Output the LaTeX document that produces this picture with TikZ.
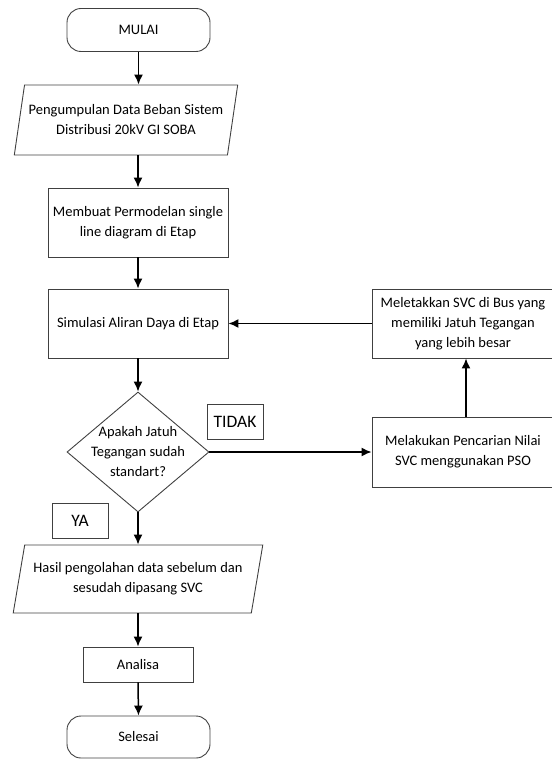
\documentclass[tikz,border=0pt]{standalone}
\usepackage{fontspec}
\setmainfont{Carlito}
\usepackage{tikz}
\usetikzlibrary{shapes.geometric,arrows.meta}
\tikzset{
    terminal/.style={
           rectangle,
           rounded corners=14pt,
           draw=black!75, line width=0.9pt,
           minimum width=143pt,
           minimum height=43pt,
           text centered,
           },
    process/.style={
           rectangle,
           draw=black!75, line width=0.9pt,
           minimum height=69pt,
           inner sep=2pt,
           align=center,
           },
    io/.style={
           trapezium,
           trapezium left angle=72,
           trapezium right angle=108,
           trapezium stretches=true,
           draw=black!75, line width=0.9pt,
           inner sep=0pt,
           align=center,
           },
    decision/.style={
           diamond,
           aspect=1.18,
           draw=black!75, line width=0.9pt,
           minimum width=142pt,
           minimum height=120pt,
           inner sep=0pt,
           },
    answer/.style={
           rectangle,
           draw=black!75, line width=0.9pt,
           minimum width=56pt,
           minimum height=35pt,
           font=\fontsize{17.5}{20}\selectfont,
           },
    arrow/.style={
           draw=black, line width=1.5pt,
           -{Latex[length=10pt,width=9pt]},
           },
}

\begin{document}
\begin{tikzpicture}[x=1pt,y=-1pt,font=\fontsize{14.5}{20}\selectfont]
    \useasboundingbox (0,0) rectangle (551,759);

    % main column
    \node[terminal] (mulai) at (138.5,30) {MULAI};
    \node[io, minimum width=224pt, minimum height=70pt] (kumpul) at (126,120)
        {Pengumpulan Data Beban Sistem\\Distribusi 20kV GI SOBA};
    \node[process, minimum width=180pt] (model) at (138,222.5)
        {Membuat Permodelan single\\line diagram di Etap};
    \node[process, minimum width=180pt] (simul) at (138,323.5)
        {Simulasi Aliran Daya di Etap};
    \node[decision] (cek) at (138,452) {};
    \node[align=center, inner sep=0pt] (cektxt) at (cek)
        {Apakah Jatuh\\Tegangan sudah\\standart?};
    \node[io, minimum width=250pt, minimum height=68pt] (hasil) at (138,579)
        {Hasil pengolahan data sebelum dan\\sesudah dipasang SVC};
    \node[process, minimum width=110pt, minimum height=35pt] (analisa) at (138,664.5)
        {Analisa};
    \node[terminal, minimum height=42pt] (selesai) at (138.5,737) {Selesai};

    % loop on the right (boxes run past the page edge)
    \node[process, minimum width=188pt] (letak) at (466,323.5)
        {\hspace*{-6pt}Meletakkan SVC di Bus yang\\\hspace*{-6pt}memiliki Jatuh Tegangan\\\hspace*{-6pt}yang lebih besar};
    \node[process, minimum width=188pt, minimum height=70pt] (cari) at (466,452)
        {\hspace*{-6pt}Melakukan Pencarian Nilai\\\hspace*{-6pt}SVC menggunakan PSO};

    % answers
    \node[answer] (tidak) at (235,421.5) {TIDAK};
    \node[answer] (ya) at (80,520.5) {YA};

    % draw the paths
    \path
        (mulai.south) edge[arrow] (mulai.south |- kumpul.north)
        (model.north |- kumpul.south) edge[arrow] (model.north)
        (model.south) edge[arrow] (simul.north)
        (simul.south) edge[arrow] (cek.north)
        (cek.east) edge[arrow] (cari.west)
        (cari.north) edge[arrow] (letak.south)
        (letak.west) edge[arrow] (simul.east)
        (cek.south) edge[arrow] (cek.south |- hasil.north)
        (analisa.north |- hasil.south) edge[arrow] (analisa.north)
        (analisa.south) edge[arrow] (selesai.north);
\end{tikzpicture}
\end{document}
